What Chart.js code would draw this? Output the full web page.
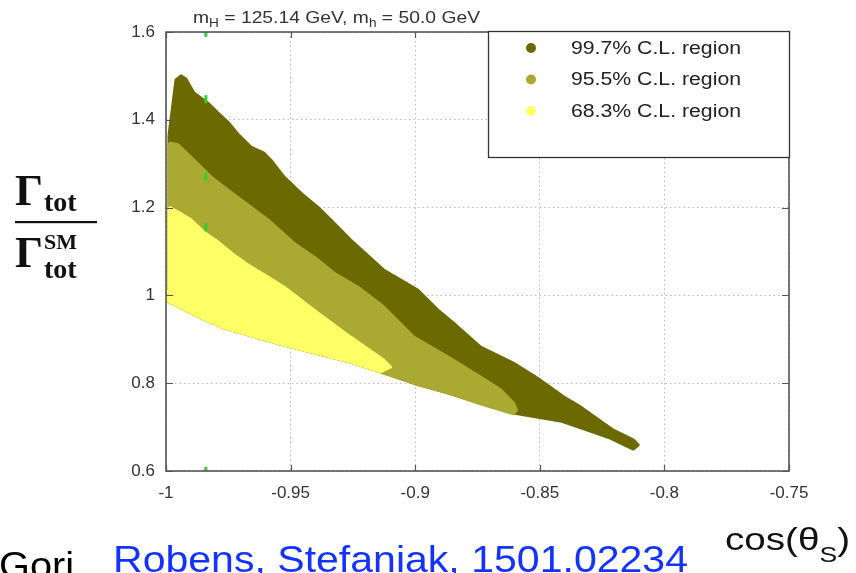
<!DOCTYPE html>
<html>
<head>
<meta charset="utf-8">
<style>
  html, body { margin: 0; padding: 0; background: #fff; }
  #wrap { width: 856px; height: 573px; }
</style>
</head>
<body>
<div id="wrap"><canvas id="grafico" width="856" height="573"></canvas></div>
<script src="https://cdn.jsdelivr.net/npm/chart.js"></script>
<script>
  // tick labels
  const xTickLabels = ['-1', '-0.95', '-0.9', '-0.85', '-0.8', '-0.75'];
  const yTickLabels = ['0.6', '0.8', '1', '1.2', '1.4', '1.6'];

  const regionLabels = ['99.7% C.L. region', '95.5% C.L. region', '68.3% C.L. region'];

  // outline of the 99.7% region (cos theta, Gamma/Gamma_SM)
  const region997X = [-0.9988, -0.996, -0.994, -0.992, -0.9888, -0.9832, -0.9792, -0.9752, -0.9708, -0.9659,
    -0.9607, -0.9579, -0.9527, -0.9459, -0.9391, -0.9339, -0.9259, -0.9127, -0.899, -0.891,
    -0.8846, -0.8738, -0.8606, -0.8498, -0.8405, -0.8337, -0.8205, -0.8125, -0.8105, -0.8125,
    -0.8217, -0.8309, -0.8417, -0.8606, -0.8738, -0.887, -0.9006, -0.9139, -0.9259, -0.9527,
    -0.9768, -0.986, -0.9988, -0.9988];
  const region997Y = [1.365, 1.491, 1.500, 1.493, 1.461, 1.438, 1.416, 1.395, 1.365, 1.338,
    1.324, 1.308, 1.270, 1.233, 1.201, 1.172, 1.126, 1.058, 1.012, 0.967,
    0.937, 0.882, 0.846, 0.807, 0.769, 0.746, 0.693, 0.671, 0.659, 0.650,
    0.675, 0.693, 0.714, 0.732, 0.755, 0.778, 0.800, 0.826, 0.848, 0.887,
    0.926, 0.949, 0.985, 1.365];

  // outline of the 95.5% region
  const region955X = [-0.9988, -0.9952, -0.9888, -0.982, -0.9752, -0.9659, -0.9591, -0.9487, -0.9391, -0.9327,
    -0.9231, -0.9127, -0.9006, -0.887, -0.8738, -0.8658, -0.8606, -0.8594, -0.8606, -0.8738,
    -0.887, -0.9006, -0.9139, -0.9259, -0.9527, -0.9768, -0.986, -0.9988, -0.9988];
  const region955Y = [1.347, 1.343, 1.308, 1.270, 1.240, 1.201, 1.172, 1.119, 1.081, 1.051,
    1.019, 0.974, 0.905, 0.860, 0.814, 0.785, 0.755, 0.739, 0.730, 0.753,
    0.778, 0.800, 0.826, 0.848, 0.887, 0.926, 0.949, 0.985, 1.347];

  // outline of the 68.3% region
  const region683X = [-0.9988, -0.9952, -0.99, -0.9848, -0.9792, -0.9728, -0.9659, -0.9591, -0.9527, -0.9391,
    -0.9259, -0.9127, -0.9099, -0.9139, -0.9259, -0.9527, -0.9768, -0.986, -0.9988,
    -1.0, -0.9988, -0.9988];
  const region683Y = [1.201, 1.190, 1.172, 1.144, 1.122, 1.092, 1.065, 1.042, 1.019, 0.960,
    0.905, 0.853, 0.837, 0.826, 0.848, 0.887, 0.926, 0.949, 0.985,
    1.000, 1.012, 1.201];

  // small green markers near cos theta = -0.984
  const markerX = [-0.984, -0.984, -0.984, -0.984, -0.984];
  const markerY = [1.598, 1.447, 1.270, 1.155, 0.600];

  const colores = ['#6b6a00', '#aaaa33', '#ffff66'];
  const verde = '#33cc33';

  const puntos = (xs, ys) => xs.map((v, i) => ({ x: v, y: ys[i] }));

  function region(i, xs, ys, orden) {
    return {
      label: regionLabels[i],
      data: puntos(xs, ys),
      showLine: true,
      fill: 'shape',
      backgroundColor: colores[i],
      borderColor: colores[i],
      borderWidth: 3,
      borderJoinStyle: 'round',
      pointRadius: 0,
      pointHoverRadius: 0,
      order: orden
    };
  }

  const SANS = '"Liberation Sans", Arial, Helvetica, sans-serif';
  const SERIF = '"Liberation Serif", "Times New Roman", serif';

  // draws a row of text pieces, stretched to a given width
  function fila(ctx, x, y, partes, ancho) {
    let total = 0;
    partes.forEach(p => { ctx.font = p.font; p.w = ctx.measureText(p.text).width; total += p.w; });
    const sx = ancho ? ancho / total : 1;
    ctx.save();
    ctx.translate(x, y);
    ctx.scale(sx, 1);
    let cx = 0;
    partes.forEach(p => {
      ctx.font = p.font;
      ctx.fillText(p.text, cx, p.dy || 0);
      cx += p.w;
    });
    ctx.restore();
  }

  const decor = {
    id: 'decor',
    afterDatasetsDraw(chart) {
      const { ctx, chartArea: a, scales: { x, y } } = chart;
      ctx.save();
      ctx.strokeStyle = '#555';
      ctx.lineWidth = 1.2;
      ctx.beginPath();
      x.ticks.forEach(t => {
        const px = Math.round(x.getPixelForValue(t.value)) + 0.5;
        ctx.moveTo(px, a.bottom); ctx.lineTo(px, a.bottom - 6);
        ctx.moveTo(px, a.top); ctx.lineTo(px, a.top + 6);
      });
      y.ticks.forEach(t => {
        const py = Math.round(y.getPixelForValue(t.value)) + 0.5;
        ctx.moveTo(a.left, py); ctx.lineTo(a.left + 7, py);
        ctx.moveTo(a.right, py); ctx.lineTo(a.right - 7, py);
      });
      ctx.stroke();
      ctx.lineWidth = 1.6;
      ctx.strokeRect(a.left, a.top, a.width, a.height);

      // legend box, top right of the plot area
      const bw = 301, bh = 126;
      const bx = a.right - bw, by = a.top - 1;
      ctx.fillStyle = '#fff';
      ctx.fillRect(bx, by, bw, bh);
      ctx.strokeStyle = '#333';
      ctx.lineWidth = 1.3;
      ctx.strokeRect(bx + 0.5, by + 0.5, bw, bh);
      chart.data.datasets.slice(0, 3).forEach((ds, i) => {
        const cy = by + 17 + i * 31.5;
        ctx.fillStyle = ds.backgroundColor;
        ctx.beginPath();
        ctx.arc(bx + 43, cy, 5, 0, Math.PI * 2);
        ctx.fill();
        ctx.fillStyle = '#222';
        ctx.textBaseline = 'middle';
        fila(ctx, bx + 83, cy + 1, [{ text: ds.label, font: '18px ' + SANS }], 170);
      });
      ctx.restore();
    },
    afterDraw(chart) {
      const { ctx } = chart;
      ctx.save();
      ctx.textBaseline = 'alphabetic';

      // title with subscripts
      ctx.fillStyle = '#333';
      fila(ctx, 193, 23, [
        { text: 'm', font: '17px ' + SANS },
        { text: 'H', font: '12px ' + SANS, dy: 4 },
        { text: ' = 125.14 GeV, m', font: '17px ' + SANS },
        { text: 'h', font: '12px ' + SANS, dy: 4 },
        { text: ' = 50.0 GeV', font: '17px ' + SANS }
      ], 287);

      // y axis label: Gamma_tot / Gamma_tot^SM
      ctx.fillStyle = '#111';
      ctx.font = 'bold 44px ' + SERIF;
      const wG = ctx.measureText('\u0393').width;
      ctx.fillText('\u0393', 15, 205);
      ctx.font = 'bold 28px ' + SERIF;
      ctx.fillText('tot', 16 + wG, 211);
      ctx.fillRect(15, 221, 82, 2.2);
      ctx.font = 'bold 44px ' + SERIF;
      ctx.fillText('\u0393', 15, 267);
      ctx.font = 'bold 22px ' + SERIF;
      ctx.fillText('SM', 16 + wG, 249);
      ctx.font = 'bold 28px ' + SERIF;
      ctx.fillText('tot', 16 + wG, 278);

      // x axis label
      fila(ctx, 725, 550, [
        { text: 'cos(\u03b8', font: '32px ' + SANS },
        { text: 'S', font: '22px ' + SANS, dy: 12 },
        { text: ')', font: '32px ' + SANS }
      ], 125);

      // bottom line of the slide
      ctx.fillStyle = '#000';
      fila(ctx, -1, 578, [{ text: 'Gori', font: '36px ' + SANS }], 75);
      ctx.fillStyle = '#1433ff';
      fila(ctx, 113, 572, [{ text: 'Robens, Stefaniak, 1501.02234', font: '36px ' + SANS }], 575);
      ctx.restore();
    }
  };

  Chart.defaults.font.family = SANS;

  new Chart(document.getElementById('grafico'), {
    type: 'scatter',
    data: {
      datasets: [
        region(0, region997X, region997Y, 3),
        region(1, region955X, region955Y, 2),
        region(2, region683X, region683Y, 1),
        {
          label: '',
          data: puntos(markerX, markerY),
          pointStyle: 'line',
          rotation: 90,
          pointRadius: 4,
          pointBorderWidth: 3,
          borderColor: verde,
          backgroundColor: verde,
          order: 0
        }
      ]
    },
    options: {
      responsive: false,
      devicePixelRatio: 1,
      animation: false,
      events: [],
      layout: { padding: { left: 0, top: 32, right: 67, bottom: 0 } },
      plugins: {
        legend: { display: false },
        tooltip: { enabled: false }
      },
      scales: {
        x: {
          type: 'linear',
          min: -1,
          max: -0.75,
          afterFit: s => { s.height = 102; },
          ticks: {
            stepSize: 0.05,
            padding: 12,
            color: '#333',
            font: { size: 17 },
            maxRotation: 0,
            callback: (v, i) => xTickLabels[i]
          },
          grid: { color: '#b8b8b8', drawTicks: false },
          border: { display: false, dash: [1.5, 3] }
        },
        y: {
          type: 'linear',
          min: 0.6,
          max: 1.6,
          afterFit: s => { s.width = 166; },
          ticks: {
            stepSize: 0.2,
            padding: 11,
            color: '#333',
            font: { size: 17 },
            callback: (v, i) => yTickLabels[i]
          },
          grid: { color: '#b8b8b8', drawTicks: false },
          border: { display: false, dash: [1.5, 3] }
        }
      }
    },
    plugins: [decor]
  });
</script>
</body>
</html>
